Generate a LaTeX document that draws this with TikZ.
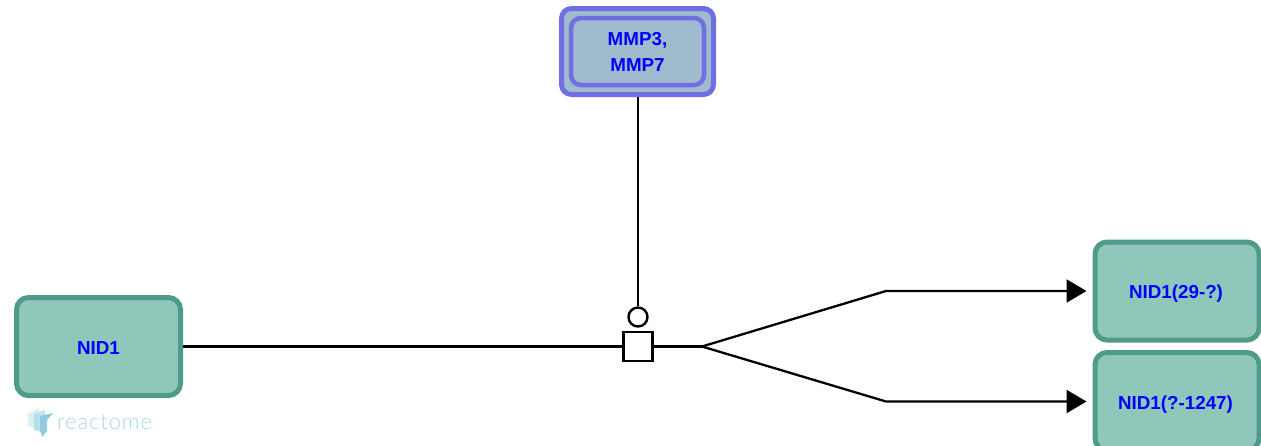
\documentclass[tikz,border=0pt]{standalone}
\usepackage{fontspec}
\setmainfont{Liberation Sans}
\newfontfamily\logofont[LetterSpace=4]{Lato Light}
\usetikzlibrary{arrows.meta}
\definecolor{protfill}{HTML}{8FC7BB}
\definecolor{protline}{HTML}{4F9A88}
\definecolor{setfill}{HTML}{A0BBCD}
\definecolor{setline}{HTML}{6F6FE3}
\definecolor{logoblue}{HTML}{A6D8E8}
\definecolor{logodark}{HTML}{8CCBE0}
\tikzset{
  protein/.style={draw=protline,fill=protfill,line width=5pt,rounded corners=12pt,minimum width=164pt,minimum height=98pt,inner sep=0pt,text=blue,font=\fontsize{18.8}{26}\selectfont\bfseries,align=center,text height=15.5pt,text depth=0pt},
  setbox/.style={draw=setline,fill=setfill,rounded corners=10pt,inner sep=0pt},
  reaction/.style={draw=black,fill=white,line width=2.4pt,minimum size=29pt,inner sep=0pt},
  catalyst/.style={draw=black,fill=white,line width=2.4pt,circle,minimum size=19pt,inner sep=0pt},
  link/.style={line width=2.3pt,black},
  product/.style={link,-{Triangle[length=20pt,width=23pt]},shorten >=6pt}
}
\begin{document}
\begin{tikzpicture}[x=1pt,y=-1pt]
\useasboundingbox (0,0) rectangle (1261,445);
\node[setbox,line width=5pt,minimum width=152pt,minimum height=86pt] (mmp) at (637.5,51.5) {};
\node[setbox,line width=4.5pt,minimum width=133pt,minimum height=67pt,text=blue,font=\fontsize{18.8}{26}\selectfont\bfseries,align=center,text depth=0pt] (mmpinner) at (637.5,51.5) {MMP3,\\MMP7};
\node[protein] (nid) at (98.5,346.5) {NID1};
\node[protein] (nidleft) at (1177,291) {\kern-2pt NID1(29-?)};
\node[protein] (nidright) at (1177,401.5) {\kern-3pt NID1(?-1247)};
\node[reaction] (step1) at (638,346.5) {};
\node[catalyst] (cat1) at (638,317) {};
\coordinate (split) at (702,346.5);
\coordinate (bendup) at (886,291);
\coordinate (benddown) at (886,401.5);
\draw[link] (mmp.south -| cat1) -- (cat1);
\draw[link] (nid) -- (step1);
\draw[link] (step1) -- (split);
\draw[product] (split) -- (bendup) -- (nidleft);
\draw[product] (split) -- (benddown) -- (nidright);
\fill[logoblue,opacity=.4] (28,414) -- (39,408) -- (39,430) -- (28,426) -- cycle;
\fill[logoblue,opacity=.7] (34,414) -- (45,410) -- (45,433) -- (34,430) -- cycle;
\fill[logodark] (40,416) -- (53,413) -- (47,420) -- (47,431) -- (42,437) -- (40,430) -- cycle;
\node[anchor=base west,inner sep=0pt,text=logoblue,font=\fontsize{22}{22}\logofont] (logo) at (57,429) {reactome};
\end{tikzpicture}
\end{document}
